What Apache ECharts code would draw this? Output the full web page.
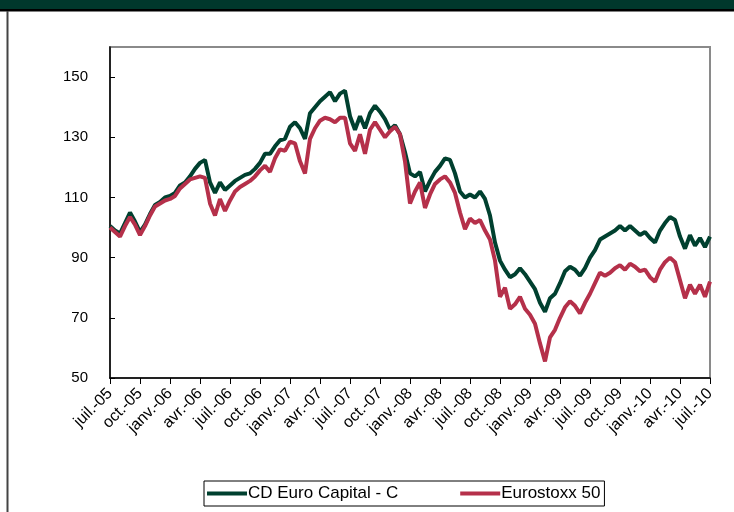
<!DOCTYPE html>
<html>
<head>
<meta charset="utf-8">
<script src="https://cdn.jsdelivr.net/npm/echarts@6/dist/echarts.min.js"></script>
<style>
  html, body { margin: 0; padding: 0; background: #fff; }
  #chart { width: 734px; height: 512px; }
</style>
</head>
<body>
<div id="chart"></div>
<script>
// Quarterly tick labels along the date axis (one every 6 half-month steps)
const quarterLabels = [
  'juil.-05', 'oct.-05', 'janv.-06', 'avr.-06', 'juil.-06', 'oct.-06',
  'janv.-07', 'avr.-07', 'juil.-07', 'oct.-07', 'janv.-08', 'avr.-08',
  'juil.-08', 'oct.-08', 'janv.-09', 'avr.-09', 'juil.-09', 'oct.-09',
  'janv.-10', 'avr.-10', 'juil.-10'
];

// Observation dates: 1st and 16th of each month, July 2005 to July 2010
const dates = [];
for (let y = 2005, m = 7; y < 2010 || (y === 2010 && m <= 7); m++) {
  if (m > 12) { m = 1; y++; }
  const mm = String(m).padStart(2, '0');
  dates.push(y + '-' + mm + '-01');
  if (!(y === 2010 && m === 7)) dates.push(y + '-' + mm + '-16');
}

// Base 100 performance of the fund
const fundValues = [
  100.5, 99, 98, 101.5, 105, 102, 98.5, 101, 104.5, 107.5,
  108.5, 110, 110.5, 111.5, 114, 115, 117, 119.5, 121.5, 122.5,
  115, 111.5, 115, 112.5, 114, 115.5, 116.5, 117.5, 118, 119.5,
  121.5, 124.5, 124.5, 127, 129, 129.5, 133.5, 135, 133, 129.5,
  138, 140, 142, 143.5, 145, 142, 144.5, 145.5, 137, 132.5,
  137, 133, 138, 140.5, 138.5, 136, 132.5, 134, 131, 125,
  118, 117, 118.5, 112, 115.5, 118.5, 120.5, 123, 122.5, 118,
  112, 110, 111, 110, 112, 109.5, 104, 95, 89, 86,
  83.5, 84.5, 86.5, 84.5, 82, 79.5, 75, 72, 76.5, 78,
  81.5, 85.5, 87, 86, 84, 86.5, 90, 92.5, 96, 97,
  98, 99, 100.5, 99, 100.5, 99, 97.5, 98.5, 96.5, 95,
  99, 101.5, 103.5, 102.5, 97, 93, 97.5, 94, 96.5, 93.5,
  97
];

// Base 100 performance of the benchmark index
const indexValues = [
  100, 98.5, 97, 100.5, 103.5, 101, 97.5, 100.5, 104, 107,
  108, 109, 109.5, 110.5, 113, 114.5, 116, 116.5, 117, 116.5,
  108, 104, 109.5, 105.5, 109, 112, 113.5, 114.5, 115.5, 117,
  119, 120.5, 118.5, 123, 126, 125.5, 128.5, 128, 122, 118,
  129.5, 133, 135.5, 136.5, 136, 135, 136.5, 136.5, 128, 125.5,
  131, 124.5, 132.5, 135, 132.5, 130, 132, 133.5, 131, 122,
  108, 112, 115, 106.5, 111, 114.5, 116, 117, 115, 111.5,
  105, 99.5, 103, 101.5, 102.5, 99, 96, 89, 77, 80,
  73, 74.5, 77, 73, 71, 68, 61.5, 55.5, 63.5, 66,
  70, 73.5, 75.5, 74, 71.5, 75, 78, 81.5, 85, 84,
  85, 86.5, 87.5, 86, 88, 87, 85.5, 86, 83.5, 82,
  86, 88.5, 90, 88.5, 82.5, 76.5, 81, 78, 81, 77,
  82
];

const yLabelValues = [50, 70, 90, 110, 130, 150];

const seriesNames = ['CD Euro Capital - C', 'Eurostoxx 50'];
const seriesColors = ['#00402f', '#b5304a'];

const chart = echarts.init(document.getElementById('chart'), null, { renderer: 'canvas' });

chart.setOption({
  animation: false,
  backgroundColor: '#fff',
  textStyle: { fontFamily: 'Liberation Sans, Arial, sans-serif' },
  graphic: [
    { type: 'rect', shape: { x: 0, y: 0, width: 734, height: 9 }, style: { fill: '#00382c' }, silent: true },
    { type: 'rect', shape: { x: 0, y: 9, width: 734, height: 2.5 }, style: { fill: '#000' }, silent: true },
    { type: 'rect', shape: { x: 6.5, y: 11, width: 2, height: 501 }, style: { fill: '#444' }, silent: true }
  ],
  grid: {
    left: 110, top: 47, right: 24, bottom: 134,
    show: true, borderColor: '#8a8a8a', borderWidth: 2, backgroundColor: 'transparent'
  },
  legend: {
    left: 204, top: 481,
    padding: [4, 4, 4, 3],
    itemGap: 62,
    itemWidth: 40, itemHeight: 4,
    icon: 'rect',
    borderColor: '#000', borderWidth: 1,
    textStyle: { fontSize: 17, color: '#000', fontFamily: 'Liberation Sans, Arial, sans-serif', padding: [0, 0, 0, -4] },
    data: seriesNames
  },
  xAxis: {
    type: 'category',
    data: dates,
    boundaryGap: false,
    axisLine: { lineStyle: { color: '#000', width: 1.5 } },
    axisTick: { interval: 5, length: 6, lineStyle: { color: '#000' } },
    axisLabel: {
      interval: 5, rotate: 45, margin: 13,
      fontSize: 16, color: '#000',
      fontFamily: 'Liberation Sans, Arial, sans-serif',
      formatter: (v, idx) => quarterLabels[Math.round(idx / 6)] || ''
    },
    splitLine: { show: false }
  },
  yAxis: {
    type: 'value',
    min: 50, max: 160,
    axisLine: { show: true, lineStyle: { color: '#000', width: 1.5 } },
    axisTick: { show: true, inside: true, length: 5, customValues: yLabelValues, lineStyle: { color: '#000' } },
    axisLabel: {
      customValues: yLabelValues,
      margin: 22, fontSize: 15, color: '#000',
      fontFamily: 'Liberation Sans, Arial, sans-serif'
    },
    splitLine: { show: false }
  },
  series: [
    {
      name: seriesNames[0], type: 'line', data: fundValues,
      showSymbol: false, smooth: false,
      lineStyle: { color: seriesColors[0], width: 4 },
      itemStyle: { color: seriesColors[0] }
    },
    {
      name: seriesNames[1], type: 'line', data: indexValues,
      showSymbol: false, smooth: false,
      lineStyle: { color: seriesColors[1], width: 4 },
      itemStyle: { color: seriesColors[1] }
    }
  ]
});
</script>
</body>
</html>
